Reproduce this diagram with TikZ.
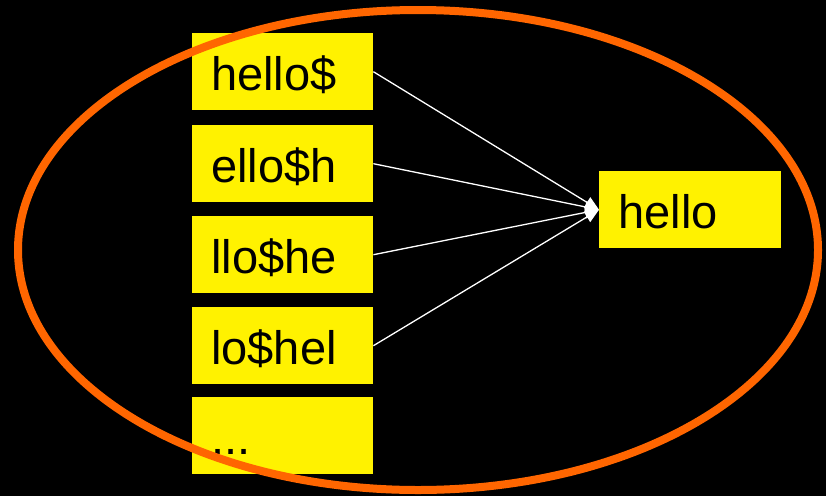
\documentclass[tikz,border=0pt]{standalone}
\usepackage{fontspec}
\setmainfont{Liberation Sans}
\usetikzlibrary{arrows.meta}
\definecolor{ringorange}{HTML}{FF6600}
\tikzset{
  rotbox/.style={fill=yellow, anchor=north west, minimum width=181pt,
    text width=143pt, align=left, inner xsep=19pt, inner ysep=0pt,
    text height=57.5pt, text depth=19.5pt,
    font=\fontsize{47}{51}\selectfont},
  link/.style={white, line width=1.3pt, -{Triangle[length=14pt,width=12pt]}},
  ring/.style={ringorange, line width=8pt}
}
\begin{document}
\begin{tikzpicture}[x=1pt,y=-1pt]
  \useasboundingbox (0,0) rectangle (826,496);
  \fill[black] (0,0) rectangle (826,496);
  % rotations of the input string
  \node[rotbox] (r1) at (192,33)  {hello\$};
  \node[rotbox] (r2) at (192,125) {ello\$h};
  \node[rotbox] (r3) at (192,216) {llo\$he};
  \node[rotbox] (r4) at (192,307) {lo\$hel};
  \node[rotbox] (r5) at (192,397) {...};
  % the recovered string
  \node[rotbox, minimum width=182pt] (res) at (599,171) {hello};
  % links from each rotation to the result
  \foreach \r in {r1,r2,r3,r4}
    \draw[link] (\r.east) -- (res.west);
  % enclosing ellipse
  \draw[ring] (418,250) ellipse [x radius=400, y radius=240];
\end{tikzpicture}
\end{document}
